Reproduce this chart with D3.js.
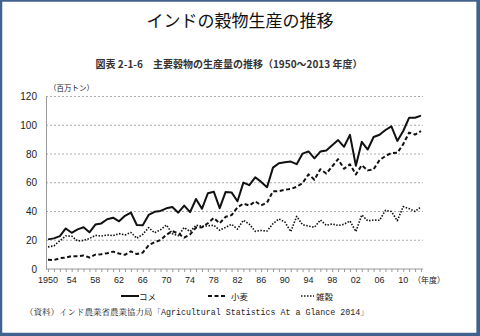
<!DOCTYPE html>
<html><head><meta charset="utf-8">
<script src="https://cdn.jsdelivr.net/npm/d3@7"></script>
<style>html,body{margin:0;padding:0;background:#fff;}svg{display:block;}</style>
</head><body>
<script>
const years = d3.range(1950, 2014);
const rice = [20.6,21.3,22.9,28.2,25.2,27.6,29.0,25.5,30.9,31.7,34.6,35.7,33.2,37.0,39.3,30.6,30.4,37.6,39.8,40.4,42.2,43.1,39.2,44.1,39.6,48.7,41.9,52.7,53.8,42.3,53.6,53.3,47.1,60.1,58.3,63.8,60.6,56.9,70.5,73.6,74.3,74.7,72.9,80.3,81.8,77.0,81.7,82.5,86.1,89.7,85.0,93.3,71.8,88.5,83.1,91.8,93.4,96.7,99.2,89.1,96.0,105.3,105.2,106.7];
const wheat = [6.5,6.2,7.5,8.0,9.0,8.8,9.4,8.0,10.0,10.3,11.0,12.1,10.8,9.9,12.3,10.4,11.4,16.5,18.7,20.1,23.8,26.4,24.7,21.8,24.1,28.8,29.0,31.8,35.5,31.8,36.3,37.5,42.8,45.5,44.1,47.1,44.3,46.2,54.1,54.1,55.1,55.7,57.2,59.8,65.8,62.1,69.4,66.4,71.3,76.4,69.7,72.8,65.8,72.2,68.6,69.4,75.8,78.6,80.7,80.8,86.9,94.9,93.5,95.9];
const coarse = [15.4,16.1,19.6,23.0,22.8,19.5,19.9,21.2,23.4,22.9,23.7,23.2,24.6,23.7,25.4,21.4,24.1,28.8,25.2,27.3,30.6,24.6,23.1,28.8,26.1,30.4,29.7,30.0,30.4,27.0,29.0,31.1,27.8,33.9,31.2,26.2,26.8,26.4,31.5,34.8,32.7,26.0,36.6,30.8,29.9,29.0,34.1,30.4,31.3,30.3,31.1,33.4,26.1,37.6,33.5,34.1,33.9,40.8,40.0,33.6,43.4,42.0,40.0,43.3];
const seriesNames = ["コメ","小麦","雑穀"];
const yTicks = [0,20,40,60,80,100,120];
const xTickYears = [1950,1954,1958,1962,1966,1970,1974,1978,1982,1986,1990,1994,1998,2002,2006,2010];
const xTickLabels = ["1950","54","58","62","66","70","74","78","82","86","90","94","98","02","06","10"];

const W = 480, H = 336;
const svg = d3.select("body").append("svg").attr("width", W).attr("height", H);

svg.append("rect").attr("x",1).attr("y",0.5).attr("width",W-3).attr("height",H-2.5)
  .attr("fill","#fff").attr("stroke","#41618e").attr("stroke-width",2.5);
svg.append("rect").attr("x",476.5).attr("y",0).attr("width",3.5).attr("height",H).attr("fill","#41618e");
svg.append("rect").attr("x",0).attr("y",333).attr("width",W).attr("height",3).attr("fill","#41618e");

const jp = "'Noto Sans CJK JP', sans-serif";
svg.append("text").attr("x",240).attr("y",27).attr("text-anchor","middle")
  .attr("font-family",jp).attr("font-size",17).attr("fill","#111").text("インドの穀物生産の推移");
svg.append("text").attr("x",229).attr("y",68).attr("text-anchor","middle")
  .attr("font-family",jp).attr("font-size",10).attr("font-weight","bold").attr("fill","#333")
  .text("図表 2-1-6　主要穀物の生産量の推移（1950～2013 年度）");
svg.append("text").attr("x",49).attr("y",91)
  .attr("font-family",jp).attr("font-size",7.5).attr("fill","#222").text("（百万トン）");

const x = d3.scaleLinear().domain([1950, 2013]).range([48, 421]);
const y = d3.scaleLinear().domain([0, 120]).range([269, 96.5]);

// grid
svg.append("g").selectAll("line").data(yTicks.filter(d=>d>0)).join("line")
  .attr("x1",46).attr("x2",423).attr("y1",d=>y(d)).attr("y2",d=>y(d))
  .attr("stroke","#aaa").attr("stroke-width",1).attr("stroke-dasharray","2,2");

// y axis
const yAxis = svg.append("g").attr("transform","translate(46,0)")
  .call(d3.axisLeft(y).tickValues(yTicks).tickSize(0).tickPadding(9));
yAxis.select(".domain").attr("stroke","#999");
yAxis.selectAll("text").attr("font-family","Arial, 'Liberation Sans', sans-serif").attr("font-size",10).attr("fill","#222");

// x axis
const xAxis = svg.append("g").attr("transform","translate(0,269)")
  .call(d3.axisBottom(x).tickValues(years).tickSize(3).tickFormat(""));
xAxis.select(".domain").attr("stroke","#999").attr("d","M46,0H423");
xAxis.selectAll(".tick line").attr("stroke","#999");
svg.append("g").selectAll("text").data(xTickYears).join("text")
  .attr("x",d=>x(d)).attr("y",283).attr("text-anchor","middle")
  .attr("font-family","Arial, 'Liberation Sans', sans-serif").attr("font-size",9).attr("fill","#222")
  .text((d,i)=>xTickLabels[i]);
svg.append("text").attr("x",413).attr("y",283).attr("font-family",jp).attr("font-size",8).attr("fill","#222").text("（年度）");

const styles = [
  {data: rice, dash: null, w: 2},
  {data: wheat, dash: "4,2.5", w: 2},
  {data: coarse, dash: "1.5,1.5", w: 1.6}
];
const line = d3.line().x((d,i)=>x(years[i])).y(d=>y(d));
styles.forEach(s=>{
  svg.append("path").datum(s.data).attr("d", line).attr("fill","none")
    .attr("stroke","#111").attr("stroke-width",s.w)
    .attr("stroke-dasharray", s.dash).attr("stroke-linejoin","round");
});

// legend
const legX = [121, 208, 301];
seriesNames.forEach((n,i)=>{
  svg.append("line").attr("x1",legX[i]).attr("x2",legX[i]+(i===2?13:18)).attr("y1",296).attr("y2",296)
    .attr("stroke","#111").attr("stroke-width",styles[i].w).attr("stroke-dasharray",styles[i].dash);
  svg.append("text").attr("x",legX[i]+(i===2?15:(i===1?23:18))).attr("y",299.5)
    .attr("font-family",jp).attr("font-size",8.5).attr("fill","#222").text(n);
});

const src = svg.append("text").attr("x",25).attr("y",315)
  .attr("font-family","'Noto Serif CJK JP','Noto Sans CJK JP', serif").attr("font-size",8.5).attr("fill","#222");
src.append("tspan").text("（資料）インド農業省農業協力局「");
src.append("tspan").attr("font-family","'Liberation Mono','DejaVu Sans Mono', monospace").attr("font-size",8.3)
  .text("Agricultural Statistics At a Glance 2014");
src.append("tspan").text("」");
</script>
</body></html>
